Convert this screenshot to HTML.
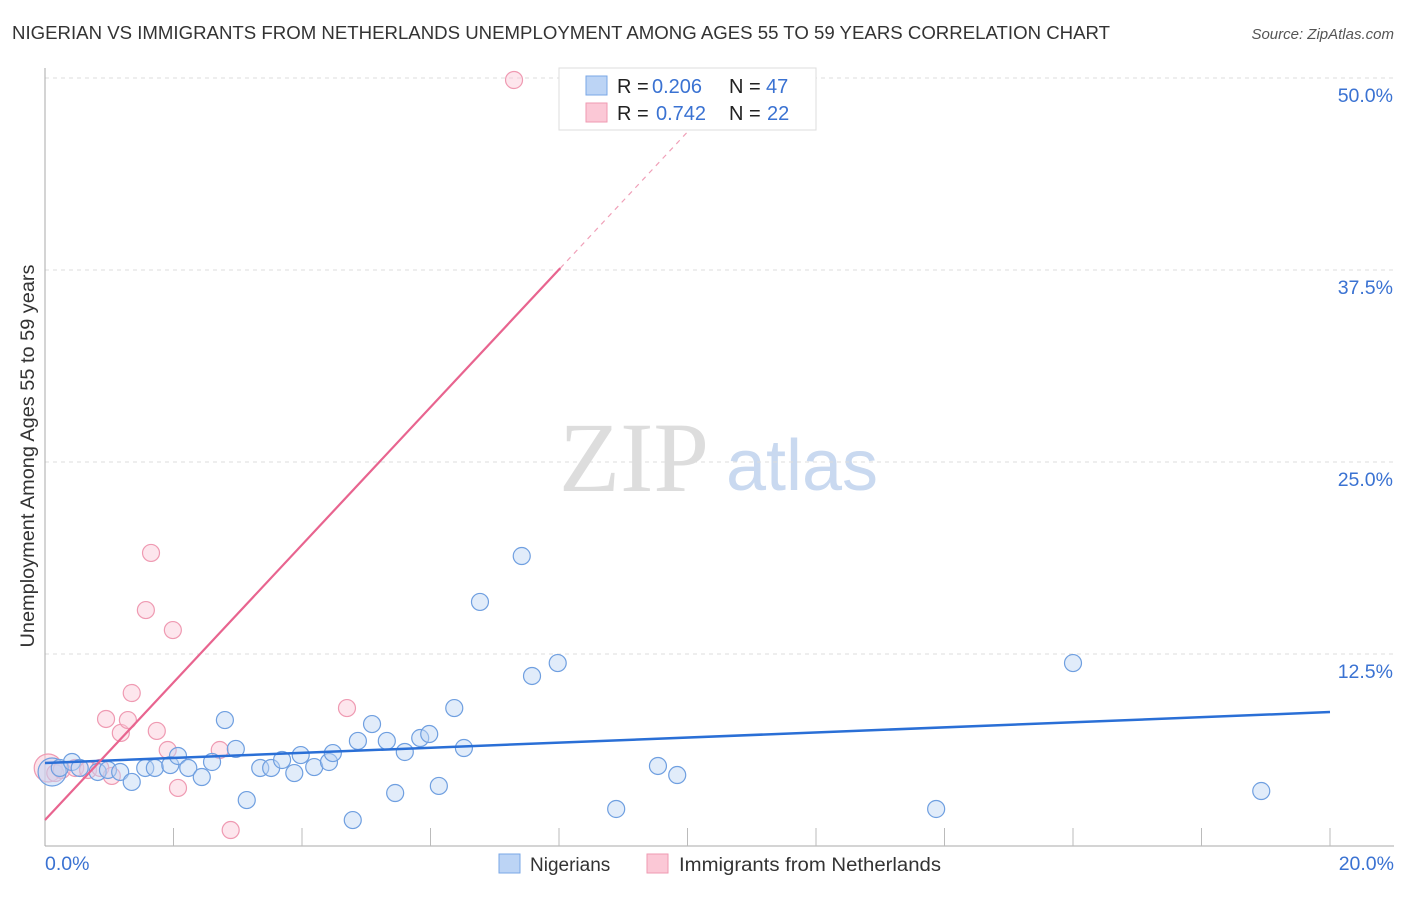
<!DOCTYPE html>
<html><head><meta charset="utf-8"><style>
body{margin:0;background:#fff;font-family:"Liberation Sans",sans-serif;}
</style></head><body>
<svg id="chart" width="1406" height="892" xmlns="http://www.w3.org/2000/svg" font-family="Liberation Sans, sans-serif">
<text x="12" y="39" font-size="18.5" fill="#333" textLength="1098" lengthAdjust="spacingAndGlyphs">NIGERIAN VS IMMIGRANTS FROM NETHERLANDS UNEMPLOYMENT AMONG AGES 55 TO 59 YEARS CORRELATION CHART</text>
<text x="1394" y="39" font-size="15" fill="#555" text-anchor="end" font-style="italic">Source: ZipAtlas.com</text>
<text x="634" y="491" font-size="100" fill="#ddd" style="font-family:'Liberation Serif',serif" text-anchor="middle">ZIP</text>
<text x="802" y="490" font-size="72" fill="#c9d9f0" text-anchor="middle">atlas</text>
<text transform="translate(34,456) rotate(-90)" font-size="19" fill="#333" text-anchor="middle" textLength="383" lengthAdjust="spacingAndGlyphs">Unemployment Among Ages 55 to 59 years</text>
<g id="grid"></g><g id="marks"></g>
<g>
<rect x="559" y="68" width="257" height="62" fill="#fff" stroke="#ddd"/>
<rect x="586" y="76" width="21" height="19" fill="#bcd4f5" stroke="#7aa7e6"/>
<rect x="586" y="103" width="21" height="19" fill="#fbc8d6" stroke="#ef9ab2"/>
<text x="617" y="93" font-size="20" fill="#222">R =</text>
<text x="652" y="93" font-size="20" fill="#3a72d2">0.206</text>
<text x="729" y="93" font-size="20" fill="#222">N =</text>
<text x="766" y="93" font-size="20" fill="#3a72d2">47</text>
<text x="617" y="120" font-size="20" fill="#222">R =</text>
<text x="656" y="120" font-size="20" fill="#3a72d2">0.742</text>
<text x="729" y="120" font-size="20" fill="#222">N =</text>
<text x="767" y="120" font-size="20" fill="#3a72d2">22</text>
</g>
<g>
<rect x="499" y="854" width="21" height="19" fill="#bcd4f5" stroke="#7aa7e6"/>
<text x="530" y="871" font-size="19" fill="#333">Nigerians</text>
<rect x="647" y="854" width="21" height="19" fill="#fbc8d6" stroke="#ef9ab2"/>
<text x="679" y="871" font-size="19" fill="#333" textLength="262" lengthAdjust="spacingAndGlyphs">Immigrants from Netherlands</text>
</g>
</svg>
<script>
const xTicks=[0,2,4,6,8,10,12,14,16,18,20];
const yTicks=[12.5,25,37.5,50];
const yTickLabels=["12.5%","25.0%","37.5%","50.0%"];
const xTickLabels=["0.0%","20.0%"];
const blueX=[0.11,0.23,0.42,0.54,0.82,0.98,1.17,1.35,1.56,1.71,1.95,2.07,2.23,2.44,2.60,2.80,2.97,3.14,3.35,3.52,3.69,3.88,3.98,4.19,4.42,4.48,4.79,4.87,5.09,5.32,5.45,5.60,5.84,5.98,6.13,6.37,6.52,6.77,7.42,7.58,7.98,8.89,9.54,9.84,13.87,16.00,18.93];
const blueY=[4.82,5.08,5.47,5.08,4.82,4.95,4.82,4.17,5.08,5.08,5.27,5.86,5.08,4.49,5.47,8.20,6.32,2.99,5.08,5.08,5.60,4.75,5.92,5.14,5.47,6.05,1.69,6.84,7.94,6.84,3.45,6.12,7.03,7.29,3.91,8.98,6.38,15.89,18.88,11.07,11.91,2.41,5.21,4.62,2.41,11.91,3.58];
const pinkX=[0.05,0.16,0.26,0.47,0.67,0.86,0.95,1.04,1.18,1.29,1.35,1.57,1.65,1.74,1.91,1.99,2.07,2.72,2.89,4.70,7.30];
const pinkY=[5.08,4.75,4.95,5.08,4.95,5.08,8.27,4.56,7.36,8.20,9.96,15.36,19.08,7.49,6.25,14.06,3.78,6.25,1.04,8.98,49.87];
const blueTrend=[5.40,8.72];
const pinkTrend=[1.69,4.48];
const NS="http://www.w3.org/2000/svg";
const X=v=>45+v/20*1285, Y=v=>846-v/12.5*192;
function mk(tag,attrs,parent){const e=document.createElementNS(NS,tag);for(const k in attrs)e.setAttribute(k,attrs[k]);parent.appendChild(e);return e;}
const grid=document.getElementById('grid'),marks=document.getElementById('marks');
yTicks.forEach((t,i)=>{
 const l=mk('line',{x1:45,x2:1394,y1:Y(t),y2:Y(t),stroke:'#ddd','stroke-dasharray':'4,4'},grid);
 
 
 const tx=mk('text',{x:1393,y:Y(t)+24,'font-size':19.5,fill:'#3a72d2','text-anchor':'end'},grid);
 tx.textContent=yTickLabels[i];
 
 
});
const ax=mk('line',{x1:45,x2:45,y1:68,y2:846,stroke:'#aaa'},grid);


const bx=mk('line',{x1:45,x2:1394,y1:846,y2:846,stroke:'#aaa'},grid);


xTicks.slice(1).forEach(t=>{
 const l=mk('line',{x1:X(t),x2:X(t),y1:828,y2:846,stroke:'#bbb'},grid);
 
 
});
[[0,'start',45],[20,'end',1394]].forEach((d,i)=>{
 const tx=mk('text',{x:d[2],y:870,'font-size':19.5,fill:'#3a72d2','text-anchor':d[1]},grid);
 tx.textContent=xTickLabels[i];
 
 
});
function dots(xs,ys,fill,stroke,name){
 xs.forEach((x,i)=>{
  const big=(i===0);
  const c=mk('circle',{cx:X(x),cy:Y(ys[i]),r:big?14:8.5,fill:fill,'fill-opacity':big?0.5:0.45,stroke:stroke,'stroke-width':1.2},marks);
  
  
 });
}
dots(pinkX,pinkY,'#fbc8d6','#ef9ab2','netherlands-point');
dots(blueX,blueY,'#bcd4f5','#6f9fe0','nigerian-point');
const bl=mk('line',{x1:X(0),y1:Y(blueTrend[0]),x2:X(20),y2:Y(blueTrend[1]),stroke:'#2a6fd6','stroke-width':2.5},marks);


const pf=x=>pinkTrend[0]+pinkTrend[1]*x;
const xs=8.02, xe=(50-pinkTrend[0])/pinkTrend[1];
const pl=mk('line',{x1:X(0),y1:Y(pf(0)),x2:X(xs),y2:Y(pf(xs)),stroke:'#e8648f','stroke-width':2.2},marks);


const pd=mk('line',{x1:X(xs),y1:Y(pf(xs)),x2:X(xe),y2:Y(pf(xe)),stroke:'#f0a0b8','stroke-width':1.2,'stroke-dasharray':'5,5'},marks);


</script>
</body></html>
